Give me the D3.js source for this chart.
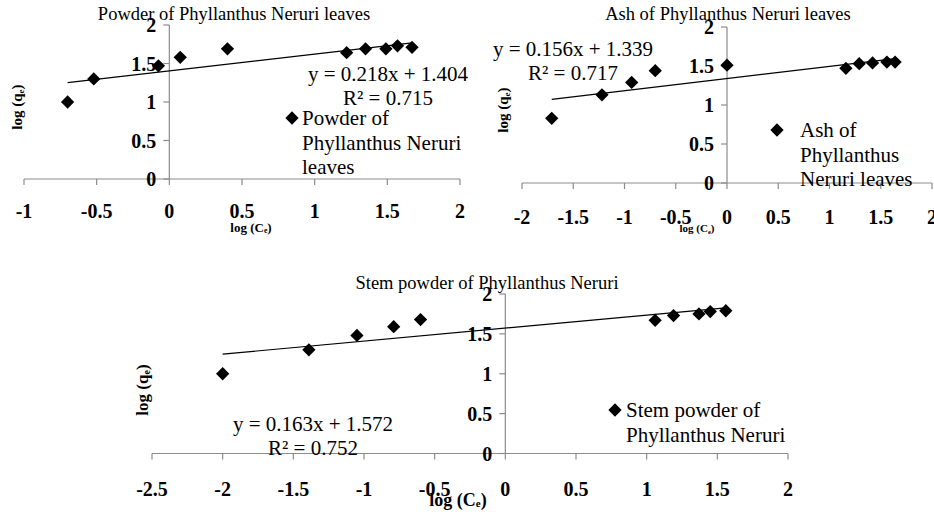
<!DOCTYPE html>
<html>
  <head>
    <meta charset="utf-8">
    <script src="https://d3js.org/d3.v7.min.js"></script>
    <style>
      body { margin: 0; background: #fff; }
      svg { display: block; }
      text { font-family: "Liberation Serif", "Times New Roman", serif; }
      .tick-label { font-weight: bold; font-size: 20px; }
      .axis-title { font-weight: bold; }
    </style>
  </head>
  <body>
    <script type="text/javascript">
      // log(Ce) / log(qe) values
      var powderX = [-0.70, -0.52, -0.075, 0.075, 0.40, 1.22, 1.35, 1.49, 1.57, 1.67];
      var powderY = [1.00, 1.30, 1.47, 1.58, 1.69, 1.64, 1.69, 1.69, 1.73, 1.71];

      var ashX = [-1.71, -1.22, -0.93, -0.70, 0.00, 1.16, 1.29, 1.42, 1.56, 1.64];
      var ashY = [0.83, 1.13, 1.29, 1.44, 1.51, 1.47, 1.53, 1.54, 1.55, 1.55];

      var stemX = [-2.00, -1.39, -1.05, -0.79, -0.60, 1.06, 1.19, 1.37, 1.45, 1.56];
      var stemY = [1.00, 1.30, 1.48, 1.59, 1.68, 1.67, 1.73, 1.75, 1.78, 1.79];

      // trendline fits printed on the chart
      var slopes = [0.218, 0.156, 0.163];
      var intercepts = [1.404, 1.339, 1.572];
      var r2 = ["0.715", "0.717", "0.752"];

      var titles = ["Powder of Phyllanthus Neruri leaves",
                    "Ash of Phyllanthus Neruri leaves",
                    "Stem powder of Phyllanthus Neruri"];
      var legends = [["Powder of", "Phyllanthus Neruri", "leaves"],
                     ["Ash of", "Phyllanthus", "Neruri leaves"],
                     ["Stem powder of", "Phyllanthus Neruri"]];

      var xTicks1 = [-1, -0.5, 0, 0.5, 1, 1.5, 2];
      var xTicks2 = [-2, -1.5, -1, -0.5, 0, 0.5, 1, 1.5, 2];
      var xTicks3 = [-2.5, -2, -1.5, -1, -0.5, 0, 0.5, 1, 1.5, 2];
      var yTicks = [0, 0.5, 1, 1.5, 2];

      var svg = d3.select("body").append("svg")
          .attr("width", 934)
          .attr("height", 515);

      var axisColor = "#8c8c8c";

      function fmt(v) { return String(v); }

      function drawPanel(p) {
        var x = d3.scaleLinear().domain(p.xDomain).range(p.xRange);
        var y = d3.scaleLinear().domain([0, 2]).range(p.yRange);
        var g = svg.append("g");

        // x axis line + ticks
        g.append("line")
          .attr("x1", x(p.xDomain[0])).attr("x2", x(p.xDomain[1]))
          .attr("y1", y(0)).attr("y2", y(0))
          .attr("stroke", axisColor).attr("stroke-width", 1.2);
        g.selectAll(".xt").data(p.xTicks).enter().append("line")
          .attr("x1", function (d) { return x(d); })
          .attr("x2", function (d) { return x(d); })
          .attr("y1", y(0)).attr("y2", y(0) + 6)
          .attr("stroke", axisColor).attr("stroke-width", 1.2);

        // y axis at x = 0
        g.append("line")
          .attr("x1", x(0)).attr("x2", x(0))
          .attr("y1", y(0)).attr("y2", y(2))
          .attr("stroke", axisColor).attr("stroke-width", 1.2);
        g.selectAll(".yt").data(yTicks).enter().append("line")
          .attr("x1", x(0) - 6).attr("x2", x(0))
          .attr("y1", function (d) { return y(d); })
          .attr("y2", function (d) { return y(d); })
          .attr("stroke", axisColor).attr("stroke-width", 1.2);

        // tick labels
        g.selectAll(".xl").data(p.xTicks).enter().append("text")
          .attr("class", "tick-label")
          .attr("x", function (d) { return x(d); })
          .attr("y", y(0) + p.xLabelDy)
          .attr("text-anchor", "middle")
          .attr("dominant-baseline", "central")
          .text(fmt);
        g.selectAll(".yl").data(yTicks).enter().append("text")
          .attr("class", "tick-label")
          .attr("x", x(0) - 13)
          .attr("y", function (d) { return y(d); })
          .attr("text-anchor", "end")
          .attr("dominant-baseline", "central")
          .text(fmt);

        // trendline
        var lo = d3.min(p.xs), hi = d3.max(p.xs);
        g.append("line")
          .attr("x1", x(lo)).attr("y1", y(p.slope * lo + p.intercept))
          .attr("x2", x(hi)).attr("y2", y(p.slope * hi + p.intercept))
          .attr("stroke", "#000").attr("stroke-width", 1.2);

        // points
        var diamond = d3.symbol().type(d3.symbolSquare).size(88);
        g.selectAll(".pt").data(p.xs).enter().append("path")
          .attr("d", diamond)
          .attr("transform", function (d, i) {
            return "translate(" + x(d) + "," + y(p.ys[i]) + ") rotate(45)";
          })
          .attr("fill", "#000");

        // title
        g.append("text")
          .attr("x", p.title[0]).attr("y", p.title[1])
          .attr("text-anchor", "middle")
          .style("font-size", "18.5px")
          .text(p.titleText);

        // equation
        g.append("text")
          .attr("x", p.eq[0]).attr("y", p.eq[1])
          .attr("text-anchor", "middle")
          .attr("dominant-baseline", "central")
          .style("font-size", "21px")
          .text("y = " + p.slope + "x + " + p.intercept);
        g.append("text")
          .attr("x", p.eq[0]).attr("y", p.eq[1] + 24)
          .attr("text-anchor", "middle")
          .attr("dominant-baseline", "central")
          .style("font-size", "21px")
          .text("R² = " + p.r2);

        // legend
        g.append("path")
          .attr("d", diamond)
          .attr("transform", "translate(" + p.leg[0] + "," + p.leg[1] + ") rotate(45)")
          .attr("fill", "#000");
        g.selectAll(".lg").data(p.legText).enter().append("text")
          .attr("x", p.leg[2])
          .attr("y", function (d, i) { return p.leg[1] + i * 24.5; })
          .attr("dominant-baseline", "central")
          .style("font-size", "21px")
          .text(function (d) { return d; });

        // axis titles
        var yt = g.append("text")
          .attr("class", "axis-title")
          .attr("transform", "translate(" + p.yTitle[0] + "," + p.yTitle[1] + ") rotate(-90)")
          .attr("text-anchor", "middle")
          .attr("dominant-baseline", "central")
          .style("font-size", p.yTitle[2] + "px");
        yt.append("tspan").text("log (q");
        yt.append("tspan").attr("dy", 4).style("font-size", (p.yTitle[2] * 0.6) + "px").text("e");
        yt.append("tspan").attr("dy", -4).text(")");

        var xt = g.append("text")
          .attr("class", "axis-title")
          .attr("x", p.xTitle[0]).attr("y", p.xTitle[1])
          .attr("text-anchor", "middle")
          .attr("dominant-baseline", "central")
          .style("font-size", p.xTitle[2] + "px");
        xt.append("tspan").text("log (C");
        xt.append("tspan").attr("dy", 3).style("font-size", (p.xTitle[2] * 0.6) + "px").text("e");
        xt.append("tspan").attr("dy", -3).text(")");
      }

      drawPanel({
        xs: powderX, ys: powderY, slope: slopes[0], intercept: intercepts[0], r2: r2[0],
        xDomain: [-1, 2], xRange: [24, 460], yRange: [179, 25], xTicks: xTicks1, xLabelDy: 32,
        titleText: titles[0], title: [234, 20],
        eq: [388, 74], leg: [292, 118, 302], legText: legends[0],
        yTitle: [17, 107, 15], xTitle: [251, 227, 13]
      });

      drawPanel({
        xs: ashX, ys: ashY, slope: slopes[1], intercept: intercepts[1], r2: r2[1],
        xDomain: [-2, 2], xRange: [522, 932], yRange: [183, 27], xTicks: xTicks2, xLabelDy: 34,
        titleText: titles[1], title: [728, 20],
        eq: [573, 49], leg: [777, 130, 800], legText: legends[1],
        yTitle: [503, 110, 15], xTitle: [697, 228, 11]
      });

      drawPanel({
        xs: stemX, ys: stemY, slope: slopes[2], intercept: intercepts[2], r2: r2[2],
        xDomain: [-2.5, 2], xRange: [152, 788], yRange: [453.5, 294], xTicks: xTicks3, xLabelDy: 35,
        titleText: titles[2], title: [487, 289],
        eq: [313, 424], leg: [615, 410, 626], legText: legends[2],
        yTitle: [142, 390, 17], xTitle: [458, 500, 18]
      });
    </script>
  </body>
</html>
